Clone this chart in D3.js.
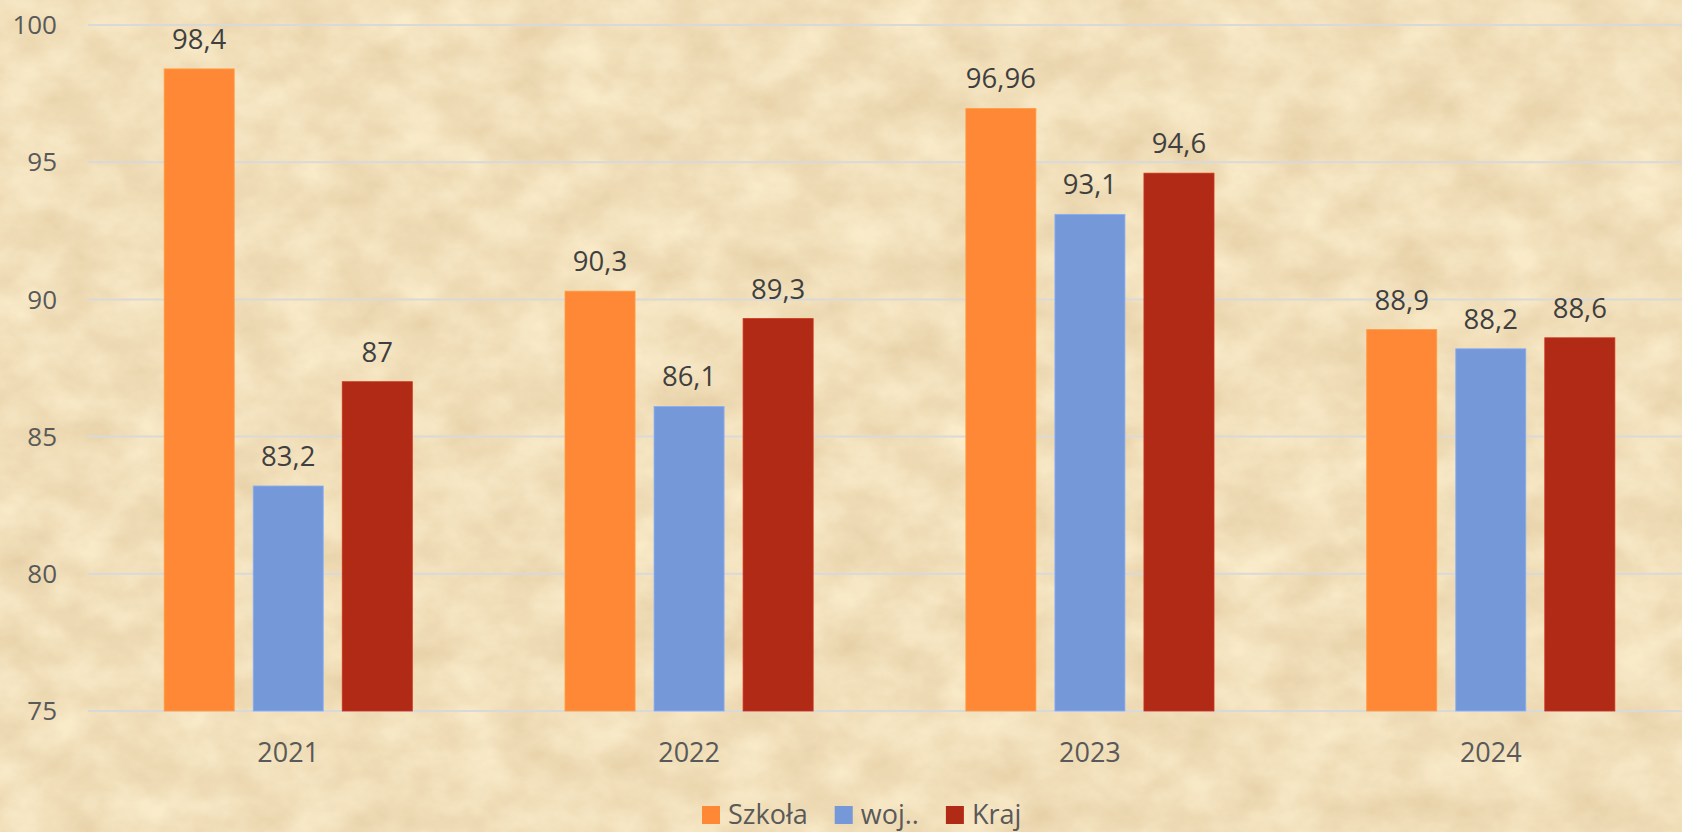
<!DOCTYPE html>
<html>
<head>
<meta charset="utf-8">
<script src="https://cdn.jsdelivr.net/npm/d3@7"></script>
<style>
    html, body { margin: 0; padding: 0; overflow: hidden; }
    #chart { width: 1682px; height: 832px; }
    text { font-family: "Open Sans", sans-serif; }
</style>
</head>
<body>
<div id="chart"></div>
<script>
////////////// DATA //////////////

const years = ["2021", "2022", "2023", "2024"];
const seriesNames = ["Szkoła", "woj..", "Kraj"];
const szkola = [98.4, 90.3, 96.96, 88.9];
const woj = [83.2, 86.1, 93.1, 88.2];
const kraj = [87, 89.3, 94.6, 88.6];
const yTicks = [75, 80, 85, 90, 95, 100];
const seriesColors = ["#FF8837", "#7598D9", "#B12A16"];

////////////// CHART //////////////

function drawChart() {
    const width = 1682;
    const height = 832;
    const margin = { top: 25, right: -9, bottom: 121, left: 88 };

    const svg = d3.select("#chart").append("svg")
        .attr("width", width)
        .attr("height", height);

    // parchment texture
    const defs = svg.append("defs");
    const filter = defs.append("filter")
        .attr("id", "paper")
        .attr("x", 0).attr("y", 0)
        .attr("width", "100%").attr("height", "100%")
        .attr("color-interpolation-filters", "sRGB");
    filter.append("feTurbulence")
        .attr("type", "fractalNoise")
        .attr("baseFrequency", "0.018 0.024")
        .attr("numOctaves", 5)
        .attr("seed", 7)
        .attr("result", "noise");
    filter.append("feColorMatrix")
        .attr("in", "noise")
        .attr("type", "matrix")
        .attr("values",
            "0.10 0 0 0 0.895 " +
            "0.14 0 0 0 0.805 " +
            "0.18 0 0 0 0.64 " +
            "0 0 0 0 1");

    svg.append("rect")
        .attr("width", width)
        .attr("height", height)
        .attr("fill", "#F1DFBA");
    svg.append("rect")
        .attr("width", width)
        .attr("height", height)
        .attr("filter", "url(#paper)");

    const x0 = d3.scaleBand()
        .domain(years)
        .range([margin.left, width - margin.right])
        .paddingInner(0.381)
        .paddingOuter(0.19);

    const x1 = d3.scaleBand()
        .domain(seriesNames)
        .range([0, x0.bandwidth()])
        .paddingInner(0.2135);

    const y = d3.scaleLinear()
        .domain([75, 100])
        .range([height - margin.bottom, margin.top]);

    // gridlines
    svg.append("g")
        .selectAll("line")
        .data(yTicks)
        .enter()
        .append("line")
        .attr("x1", margin.left)
        .attr("x2", width)
        .attr("y1", d => y(d))
        .attr("y2", d => y(d))
        .style("stroke", "#D9D9D9")
        .style("stroke-width", 2);

    // y tick labels
    svg.append("g")
        .selectAll("text")
        .data(yTicks)
        .enter()
        .append("text")
        .attr("x", 57)
        .attr("y", d => y(d))
        .attr("dy", "0.35em")
        .attr("text-anchor", "end")
        .style("font-size", "26px")
        .style("fill", "#595959")
        .text(d => d);

    // bars
    const rows = years.map((yr, i) => ({
        year: yr,
        values: [szkola[i], woj[i], kraj[i]]
    }));

    const groups = svg.append("g")
        .selectAll("g")
        .data(rows)
        .enter()
        .append("g")
        .attr("transform", d => `translate(${x0(d.year)},0)`);

    const cells = groups.selectAll("g")
        .data(d => d.values.map((v, j) => ({ name: seriesNames[j], value: v, color: seriesColors[j] })))
        .enter()
        .append("g");

    cells.append("rect")
        .attr("x", d => x1(d.name))
        .attr("width", x1.bandwidth())
        .attr("y", d => y(d.value))
        .attr("height", d => y(75) - y(d.value))
        .attr("fill", d => d.color)
        .style("stroke", d => d3.color(d.color).brighter(0.4))
        .style("stroke-width", 0.8);

    cells.append("text")
        .attr("x", d => x1(d.name) + x1.bandwidth() / 2)
        .attr("y", d => y(d.value) - 20)
        .attr("text-anchor", "middle")
        .style("font-size", "27.5px")
        .style("fill", "#3F3F3F")
        .text(d => String(d.value).replace(".", ","));

    // x labels
    svg.append("g")
        .selectAll("text")
        .data(years)
        .enter()
        .append("text")
        .attr("x", d => x0(d) + x0.bandwidth() / 2)
        .attr("y", 762)
        .attr("text-anchor", "middle")
        .style("font-size", "27px")
        .style("fill", "#595959")
        .text(d => d);

    // legend
    const legend = svg.append("g");
    let lx = 702;
    seriesNames.forEach((name, i) => {
        legend.append("rect")
            .attr("x", lx)
            .attr("y", 806)
            .attr("width", 18)
            .attr("height", 18)
            .attr("fill", seriesColors[i]);
        const t = legend.append("text")
            .attr("x", lx + 26)
            .attr("y", 824)
            .style("font-size", "27px")
            .style("fill", "#595959")
            .text(name);
        lx += 26 + t.node().getComputedTextLength() + 27;
    });
}

drawChart();
</script>
</body>
</html>
